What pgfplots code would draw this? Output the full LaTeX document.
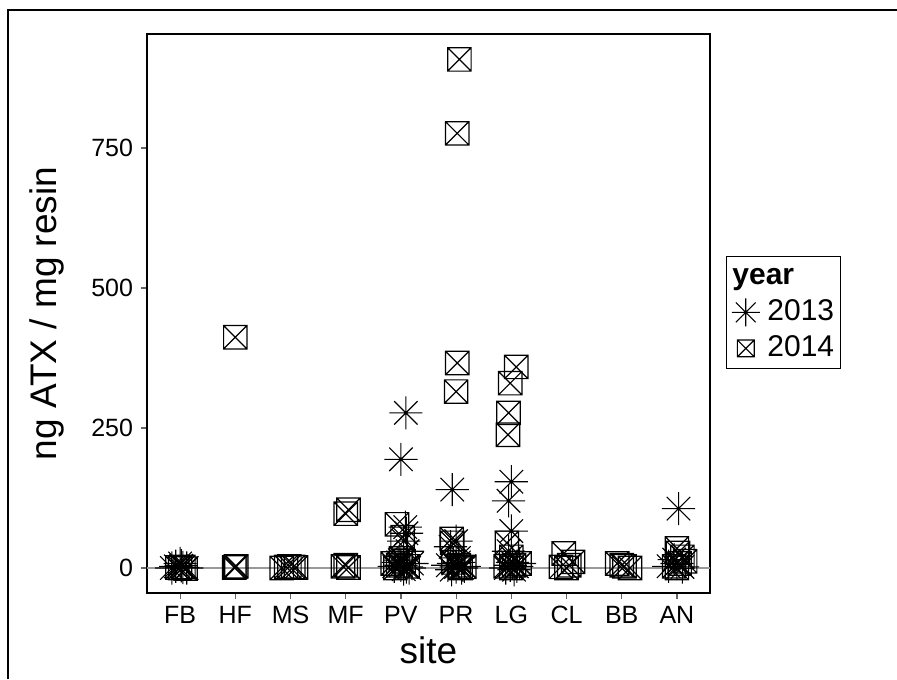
\documentclass[border=0pt]{standalone}
\usepackage{fontspec}
\setmainfont{Liberation Sans}
\usepackage{pgfplots}
\pgfplotsset{compat=1.18}
\pgfdeclareplotmark{star8}{%
 \pgfpathmoveto{\pgfqpoint{-\pgfplotmarksize}{0pt}}\pgfpathlineto{\pgfqpoint{\pgfplotmarksize}{0pt}}%
 \pgfpathmoveto{\pgfqpoint{0pt}{-\pgfplotmarksize}}\pgfpathlineto{\pgfqpoint{0pt}{\pgfplotmarksize}}%
 \pgfpathmoveto{\pgfqpoint{-0.7071\pgfplotmarksize}{-0.7071\pgfplotmarksize}}\pgfpathlineto{\pgfqpoint{0.7071\pgfplotmarksize}{0.7071\pgfplotmarksize}}%
 \pgfpathmoveto{\pgfqpoint{-0.7071\pgfplotmarksize}{0.7071\pgfplotmarksize}}\pgfpathlineto{\pgfqpoint{0.7071\pgfplotmarksize}{-0.7071\pgfplotmarksize}}%
 \pgfusepathqstroke}
\pgfdeclareplotmark{boxx}{%
 \pgfpathrectangle{\pgfqpoint{-\pgfplotmarksize}{-\pgfplotmarksize}}{\pgfqpoint{2\pgfplotmarksize}{2\pgfplotmarksize}}%
 \pgfpathmoveto{\pgfqpoint{-\pgfplotmarksize}{-\pgfplotmarksize}}\pgfpathlineto{\pgfqpoint{\pgfplotmarksize}{\pgfplotmarksize}}%
 \pgfpathmoveto{\pgfqpoint{-\pgfplotmarksize}{\pgfplotmarksize}}\pgfpathlineto{\pgfqpoint{\pgfplotmarksize}{-\pgfplotmarksize}}%
 \pgfusepathqstroke}
\pgfplotsset{
 starleg/.style={legend image code/.code={\path (0cm,0cm) (0.6cm,0cm); \draw[##1, mark size=7pt] plot coordinates {(0.3cm,0cm)};}},
 boxleg/.style={legend image code/.code={\path (0cm,0cm) (0.6cm,0cm); \draw[##1, mark size=4.2pt] plot coordinates {(0.3cm,0cm)};}},
}
\begin{document}
\begin{tikzpicture}
\useasboundingbox (0,0) rectangle (448.5pt,339.5pt);
\fill[white] (0,0) rectangle (448.5pt,339.5pt);
\draw[line width=1pt] (4pt,0) -- (4pt,334.5pt) -- (448.5pt,334.5pt);
\begin{axis}[
 at={(73.5pt,43pt)}, anchor=south west,
 scale only axis, width=281.5pt, height=279.5pt,
 xmin=-0.6, xmax=9.6, ymin=-44.6, ymax=953.4,
 xtick={0,1,2,3,4,5,6,7,8,9},
 xticklabels={FB,HF,MS,MF,PV,PR,LG,CL,BB,AN},
 ytick={0,250,500,750},
 xtick pos=bottom, ytick pos=left, tick align=outside, major tick length=3pt,
 every tick/.append style={black!60, line width=0.6pt},
 axis line style={line width=0.8pt},
 tick label style={font=\fontsize{12.5}{15}\selectfont},
 yticklabel style={inner xsep=3.8pt},
 /pgf/number format/assume math mode=true,
 xlabel={site}, ylabel={ng ATX / mg resin},
 label style={font=\fontsize{18.5}{22}\selectfont},
 xlabel style={at={(axis description cs:0.5,-0.102)}, anchor=center},
 ylabel style={at={(axis description cs:-0.177,0.5)}, anchor=center},
 legend style={at={(axis description cs:1.0275,0.502)}, anchor=west, draw=black, line width=0.6pt,
   inner sep=1pt, font=\fontsize{15}{18}\selectfont, row sep=0pt,
   cells={anchor=west}, nodes={inner sep=2pt, text height=11pt, text depth=3pt}},
]
\addplot[gray!80, line width=0.6pt, no marks, forget plot] coordinates {(-0.6,0) (9.6,0)};
\addlegendimage{empty legend}
\addlegendentry{\hspace*{-17.5pt}\textbf{year}}
\addplot[only marks, mark=star8, mark size=8.3pt, line width=0.55pt, black, starleg]
coordinates {
(-0.08,3) (0.0,8) (0.05,1) (0.12,0) (-0.15,0) (0.02,4)
(4.09,277) (4.0,194) (4.08,73) (4.1,62) (4.05,48) (4.12,30) (3.95,10) (4.0,5) (4.1,2) (4.15,0) (3.88,3) (4.05,-2) (3.98,14) (4.2,8)
(4.93,140) (5.0,48) (4.9,38) (5.05,18) (4.95,8) (5.0,2) (5.1,0) (4.85,5) (5.15,3) (4.92,-3) (5.05,10)
(6.0,154) (5.95,120) (6.0,66) (5.95,30) (6.02,10) (6.1,3) (5.9,0) (6.05,-3) (5.98,5) (6.15,8)
(9.03,106) (8.85,3) (9.0,8) (9.1,2) (8.95,15)
};
\addlegendentry{2013}
\addplot[only marks, mark=boxx, mark size=5.85pt, line width=0.6pt, black, boxleg]
coordinates {
(0.0,0) (0.06,2) (-0.05,1) (0.1,-1)
(1.0,412) (0.98,1) (1.0,2) (1.02,3)
(1.84,0) (1.92,2) (1.98,3) (2.05,2) (2.1,1)
(3.05,104) (3.0,97) (2.95,3) (3.05,1) (3.0,5)
(3.93,78) (4.03,55) (3.85,8) (3.95,5) (4.05,12) (4.12,3) (4.0,17) (3.9,0)
(5.06,908) (5.02,776) (5.02,366) (5.0,315) (4.92,52) (4.93,45) (5.05,5) (5.15,2) (4.95,10) (5.08,0)
(6.09,359) (5.98,330) (5.95,277) (5.94,238) (5.92,45) (6.0,20) (5.9,3) (6.05,5) (6.15,8) (6.0,0)
(6.95,26) (7.05,5) (6.9,2) (7.12,11) (7.0,0)
(7.92,8) (8.05,3) (8.15,0) (8.0,5)
(9.0,35) (9.1,20) (9.02,27) (8.95,3) (9.05,8) (9.15,12) (9.0,0)
};
\addlegendentry{2014}
\end{axis}
\end{tikzpicture}
\end{document}
